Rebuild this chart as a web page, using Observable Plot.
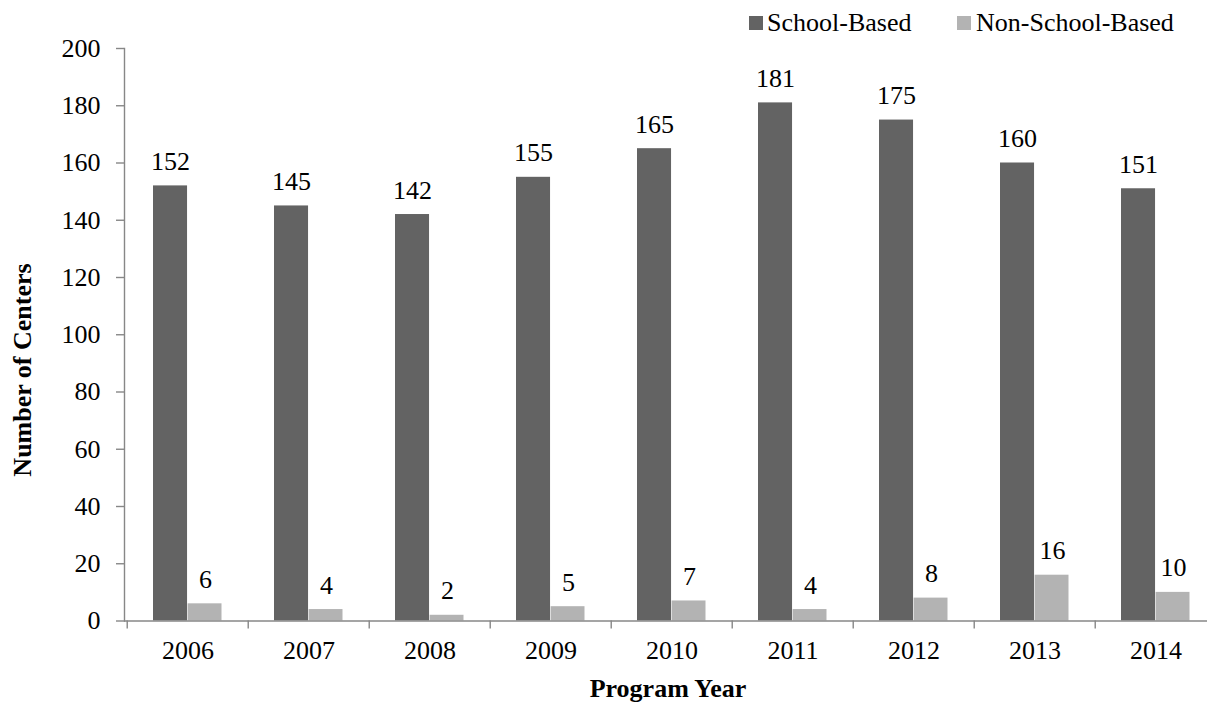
<!DOCTYPE html>
<html><head><meta charset="utf-8">
<script src="https://cdn.jsdelivr.net/npm/d3@7"></script>
<script src="https://cdn.jsdelivr.net/npm/@observablehq/plot@0.6"></script>
<style>
body{margin:0;background:#fff;}
#wrap{position:relative;width:1207px;height:703px;overflow:hidden;font-family:"Liberation Serif","Times New Roman",serif;color:#000;}
#wrap svg{position:absolute;left:0;top:0;}
.sw{position:absolute;width:14px;height:14px;}
.lt{position:absolute;font-size:26px;line-height:1;white-space:nowrap;}
.ttl{position:absolute;font-size:26px;font-weight:bold;white-space:nowrap;line-height:1;}
</style>
</head><body><div id="wrap"></div>
<script>
const years = ["2006","2007","2008","2009","2010","2011","2012","2013","2014"];
const schoolBased = [152,145,142,155,165,181,175,160,151];
const nonSchoolBased = [6,4,2,5,7,4,8,16,10];
const seriesNames = ["School-Based","Non-School-Based"];
const seriesColors = ["#636363","#b3b3b3"];
const yTicks = [0,20,40,60,80,100,120,140,160,180,200];
const xTitle = "Program Year";
const yTitle = "Number of Centers";

const schoolRows = years.map((y,i)=>({year:y, value:schoolBased[i]}));
const nonRows = years.map((y,i)=>({year:y, value:nonSchoolBased[i]}));

const W = 1207, H = 703;
const X0 = 124, X1 = 1218, Ytop = 48, Ybot = 620.5;
const bw = (X1 - X0) / years.length;
const axisGray = "#878787";
const fs = 26;

const chart = Plot.plot({
  width: W, height: H,
  marginLeft: X0, marginRight: 0, marginTop: Ytop, marginBottom: H - Ybot,
  style: {fontFamily: '"Liberation Serif","Times New Roman",serif', fontSize: fs + "px", color: "#000", background: "transparent"},
  x: {type: "band", domain: years, range: [X0, X1], padding: 0, axis: null},
  y: {domain: [0, 200], range: [Ybot, Ytop], axis: null},
  marks: [
    Plot.barY(schoolRows, {x: "year", y: "value", fill: seriesColors[0], insetLeft: 26, insetRight: bw - 60.6}),
    Plot.barY(nonRows, {x: "year", y: "value", fill: seriesColors[1], insetLeft: 60.6, insetRight: 26.5}),
    Plot.text(schoolRows, {x: "year", y: "value", text: d => String(d.value), dx: -(bw/2 - 43.3), dy: -16, lineAnchor: "bottom", fontSize: fs}),
    Plot.text(nonRows, {x: "year", y: "value", text: d => String(d.value), dx: 17.5, dy: -16, lineAnchor: "bottom", fontSize: fs}),
    Plot.frame({anchor: "left", stroke: axisGray, strokeWidth: 1.4}),
    Plot.ruleY([0], {stroke: axisGray, strokeWidth: 1.4}),
    Plot.ruleX(years, {x: d => d, dx: -bw/2, y1: 0, y2: 0, insetBottom: -8, stroke: axisGray, strokeWidth: 1.4}),
    Plot.axisY({ticks: yTicks, tickSize: 8, text: null, stroke: axisGray, strokeWidth: 1.4, label: null}),
    Plot.axisY({ticks: yTicks, tickSize: 0, tickPadding: 24, label: null, fontSize: fs}),
    Plot.axisX({tickSize: 0, tickPadding: 20, label: null, fontSize: fs})
  ]
});
const wrap = document.getElementById("wrap");
wrap.appendChild(chart);

// legend
const legendItems = [
  {sx: 749, tx: 767},
  {sx: 957, tx: 976}
];
seriesNames.forEach((name, i) => {
  const sw = document.createElement("div");
  sw.className = "sw";
  sw.style.left = legendItems[i].sx + "px";
  sw.style.top = "16px";
  sw.style.background = seriesColors[i];
  wrap.appendChild(sw);
  const t = document.createElement("div");
  t.className = "lt";
  t.style.left = legendItems[i].tx + "px";
  t.style.top = "10px";
  t.textContent = name;
  wrap.appendChild(t);
});
// axis titles
const xt = document.createElement("div");
xt.className = "ttl";
xt.textContent = xTitle;
xt.style.left = "668px"; xt.style.top = "676px"; xt.style.transform = "translateX(-50%)";
wrap.appendChild(xt);
const yt = document.createElement("div");
yt.className = "ttl";
yt.textContent = yTitle;
yt.style.left = "23px"; yt.style.top = "370px"; yt.style.transform = "translate(-50%,-50%) rotate(-90deg)";
wrap.appendChild(yt);
</script>
</body></html>
